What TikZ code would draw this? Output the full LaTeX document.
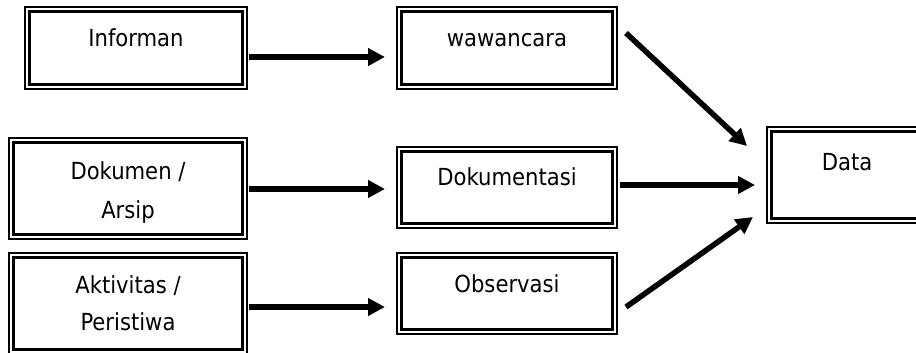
\documentclass[tikz,border=0pt]{standalone}
\usepackage{fontspec}
\setmainfont{DejaVu Sans Condensed}
\usetikzlibrary{arrows.meta}
\tikzset{
  box/.style={draw, line width=1.4pt, anchor=north west, inner sep=0pt, outer sep=0pt},
  inbox/.style={line width=2.1pt},
  lbl/.style={anchor=base, inner sep=0pt, font=\fontsize{23.5}{28}\selectfont},
  arr/.style={line width=5.5pt, -{Triangle[length=17pt,width=17pt]}}
}
\begin{document}
\begin{tikzpicture}[x=1pt,y=-1pt]
\useasboundingbox (0,0) rectangle (916,353);
\clip (0,0) rectangle (916,353);
% boxes
\node[box, minimum width=222pt, minimum height=82pt] (inf) at (25,7) {};
\node[box, minimum width=238pt, minimum height=101pt] (dok) at (9,138) {};
\node[box, minimum width=238pt, minimum height=101pt] (akt) at (9,253) {};
\node[box, minimum width=220pt, minimum height=82pt] (waw) at (397,7) {};
\node[box, minimum width=220pt, minimum height=81pt] (dkm) at (397,147) {};
\node[box, minimum width=220pt, minimum height=81pt] (obs) at (397,253) {};
\node[box, minimum width=160pt, minimum height=96pt] (dat) at (767,127) {};
\foreach \n in {inf,dok,akt,waw,dkm,obs,dat}
  \draw[inbox] ([shift={(4.5,4.5)}]\n.north west) rectangle ([shift={(-4.5,-4.5)}]\n.south east);
% labels
\node[lbl] (tinf) at (136,47) {Informan};
\node[lbl] (tdok1) at (128,179) {Dokumen /};
\node[lbl] (tdok2) at (128,218) {Arsip};
\node[lbl] (takt1) at (128,293) {Aktivitas /};
\node[lbl] (takt2) at (128,330) {Peristiwa};
\node[lbl] (twaw) at (507,47) {wawancara};
\node[lbl] (tdkm) at (507,185) {Dokumentasi};
\node[lbl] (tobs) at (507,292) {Observasi};
\node[lbl] (tdat) at (847,170) {Data};
% arrows
\draw[arr] ([shift={(2,50)}]inf.north east) -- ([shift={(-12,50)}]waw.north west);
\draw[arr] ([shift={(2,51)}]dok.north east) -- ([shift={(-12,42)}]dkm.north west);
\draw[arr] ([shift={(2,54)}]akt.north east) -- ([shift={(-12,54)}]obs.north west);
\draw[arr] ([shift={(9,26)}]waw.north east) -- ([shift={(-20,19)}]dat.north west);
\draw[arr] ([shift={(3,38)}]dkm.north east) -- ([shift={(-12,58)}]dat.north west);
\draw[arr] ([shift={(9,54)}]obs.north east) -- ([shift={(-14,90)}]dat.north west);
\end{tikzpicture}
\end{document}
